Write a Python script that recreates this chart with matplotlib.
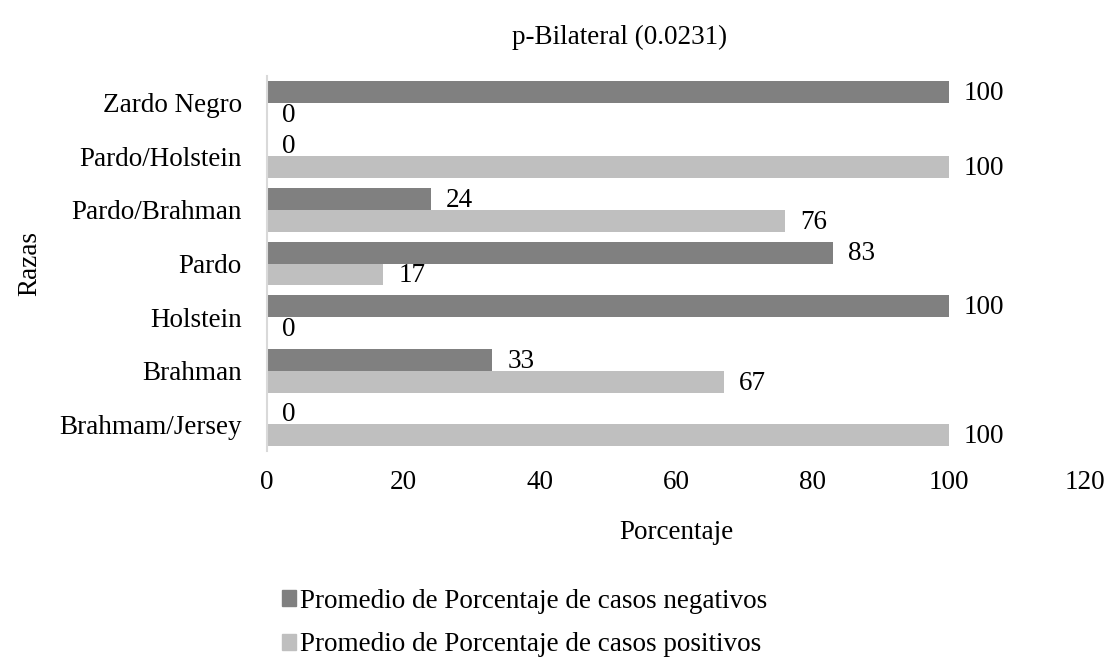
import numpy as np
import matplotlib.pyplot as plt
from matplotlib.patches import Patch

plt.rcParams['font.family'] = ['Liberation Serif', 'DejaVu Serif']

# datos
razas = ['Zardo Negro', 'Pardo/Holstein', 'Pardo/Brahman', 'Pardo',
         'Holstein', 'Brahman', 'Brahmam/Jersey']
negativos = [100, 0, 24, 83, 100, 33, 0]
positivos = [0, 100, 76, 17, 0, 67, 100]

c_neg = '#808080'
c_pos = '#bfbfbf'
fs = 19.5

fig = plt.figure(figsize=(11.1, 6.6), dpi=100)
ax = fig.add_axes([267 / 1110, 1 - 451 / 660, (1085 - 267) / 1110, 375 / 660])

y = np.arange(len(razas))
h = 0.41
ax.barh(y - h / 2, negativos, height=h, color=c_neg)
ax.barh(y + h / 2, positivos, height=h, color=c_pos)

for yi, v in zip(y, negativos):
    ax.annotate(str(v), (v, yi - h / 2), xytext=(11, -1), textcoords='offset points',
                va='center', ha='left', fontsize=fs)
for yi, v in zip(y, positivos):
    ax.annotate(str(v), (v, yi + h / 2), xytext=(11, -1), textcoords='offset points',
                va='center', ha='left', fontsize=fs)

ax.set_xlim(0, 120)
ax.set_ylim(len(razas) - 0.5, -0.5)
ax.set_xticks(range(0, 121, 20))
ax.set_yticks(y)
ax.set_yticklabels(razas)
ax.tick_params(axis='both', length=0, labelsize=fs)
ax.tick_params(axis='x', pad=14)
ax.tick_params(axis='y', pad=18)
for s in ['top', 'right', 'bottom']:
    ax.spines[s].set_visible(False)
ax.spines['left'].set_color('#d9d9d9')
ax.spines['left'].set_linewidth(1.5)

ax.set_xlabel('Porcentaje', fontsize=fs, labelpad=18)
ax.set_ylabel('Razas', fontsize=fs, labelpad=12)
fig.text(620 / 1110, 1 - 37 / 660, 'p-Bilateral (0.0231)', ha='center', va='center', fontsize=fs)

handles = [Patch(color=c_neg), Patch(color=c_pos)]
fig.legend(handles, ['Promedio de Porcentaje de casos negativos',
                     'Promedio de Porcentaje de casos positivos'],
           loc='center left', bbox_to_anchor=(282 / 1110, 1 - 623 / 660),
           frameon=False, fontsize=fs, handlelength=0.5, handleheight=0.5,
           handletextpad=0.15, labelspacing=0.7, borderpad=0, borderaxespad=0)

fig.savefig('out.png', dpi=100)
